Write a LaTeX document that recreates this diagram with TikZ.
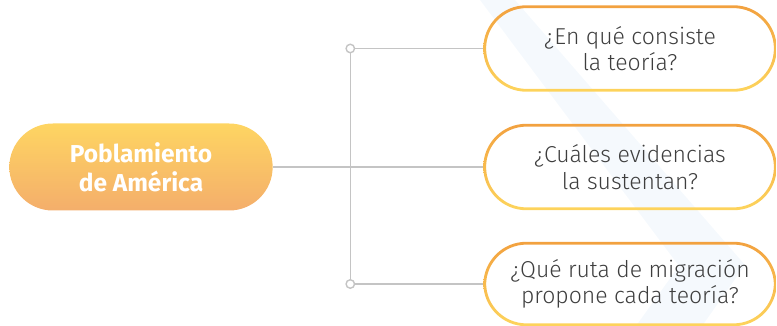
\documentclass[tikz,border=0pt]{standalone}
\usepackage{fontspec}
\setmainfont{Fira Sans}
\newfontfamily\lightfont{Fira Sans Light}
\usetikzlibrary{shapes.misc}
\definecolor{lineGray}{HTML}{C4C4C4}
\definecolor{textGray}{HTML}{3E3E3E}
\definecolor{mainTop}{HTML}{FED562}
\definecolor{mainBot}{HTML}{F4AE6B}
\definecolor{ringTop}{HTML}{F2A13F}
\definecolor{ringBot}{HTML}{FDD45C}
\definecolor{bandBlue}{HTML}{F5F9FD}
\newcommand\ringfor[1]{%
  \shade[top color=ringTop, bottom color=ringBot, even odd rule]
    [rounded corners=43pt] (#1.south west) rectangle (#1.north east)
    [rounded corners=40.3pt] ([shift={(2.8,-2.8)}]#1.south west) rectangle ([shift={(-2.8,2.8)}]#1.north east);}
\begin{document}
\begin{tikzpicture}[x=1pt,y=-1pt,
  gline/.style={draw=lineGray, line width=1.4pt},
  dotc/.style={circle, draw=lineGray, line width=1.4pt, fill=white, minimum size=8.5pt, inner sep=0pt},
  qtext/.style={font=\lightfont\fontsize{23}{26.5}\selectfont, text=textGray, align=center,
    minimum width=293pt, minimum height=86pt, inner sep=0pt},
  mainbox/.style={rounded rectangle, minimum width=270pt, minimum height=87pt,
    top color=mainTop, bottom color=mainBot, draw=none, text=white,
    font=\bfseries\fontsize{24.5}{29}\selectfont, align=center}]
\useasboundingbox (0,0) rectangle (777,326);
% faint background chevron
\fill[bandBlue] (480,0) -- (515,0) -- (745,265) -- (702,326) -- (636,326) -- (679,266) -- cycle;
% nodes
\node[mainbox] (main) at (141,167) {Poblamiento\\de América};
\node[qtext] (q1) at (630,48.5) {¿En qué consiste\\la teoría?};
\node[qtext] (q2) at (630,167) {¿Cuáles evidencias\\la sustentan?};
\node[qtext, minimum height=84pt] (q3) at (630,284) {¿Qué ruta de migración\\propone cada teoría?};
\ringfor{q1}
\ringfor{q2}
\ringfor{q3}
% connectors
\coordinate (jt) at ([xshift=-133pt]q1.west);
\coordinate (jb) at ([xshift=-133pt]q3.west);
\draw[gline] (main.east) -- (q2.west);
\draw[gline] (jt) -- (jb);
\draw[gline] (jt) -- (q1.west);
\draw[gline] (jb) -- (q3.west);
\node[dotc] (dt) at (jt) {};
\node[dotc] (db) at (jb) {};
\end{tikzpicture}
\end{document}
